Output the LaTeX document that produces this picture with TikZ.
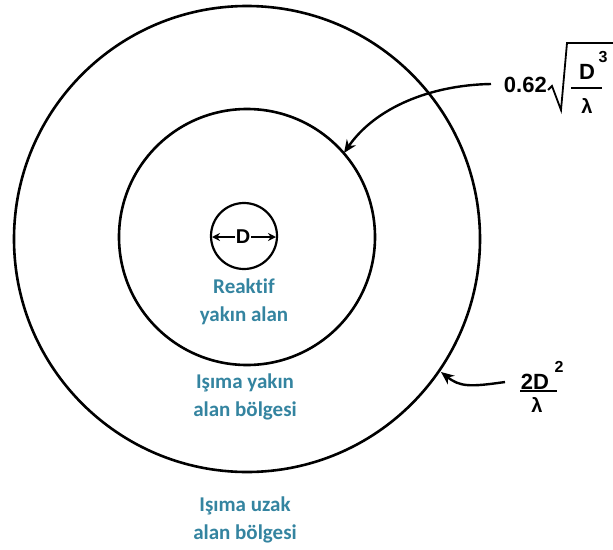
\documentclass[tikz,border=0pt]{standalone}
\usepackage{fontspec}
\setmainfont{Liberation Sans}
\newfontfamily\labfont[Ligatures=NoCommon]{Carlito}
\usetikzlibrary{arrows.meta}
\definecolor{zonec}{RGB}{52,132,160}
\tikzset{
  ring/.style={draw=black, line width=2.6pt, circle, inner sep=0pt},
  zone/.style={font=\labfont\bfseries\fontsize{21}{28}\selectfont, text=zonec, align=center},
  frm/.style={font=\bfseries\fontsize{22}{24}\selectfont, inner sep=0pt},
  sup/.style={font=\bfseries\fontsize{16}{18}\selectfont, inner sep=0pt},
  pointer/.style={line width=2.4pt, -{Stealth[length=13pt,width=11pt]}},
  darr/.style={line width=2.2pt, -{Stealth[length=8pt,width=8pt]}}
}
\begin{document}
\begin{tikzpicture}[x=1pt,y=-1pt]
\useasboundingbox (0,0) rectangle (613,549);
% circles
\node[ring, minimum size=466pt] (outer) at (247,239) {};
\node[ring, minimum size=256pt] (inner) at (247,237) {};
\node[ring, line width=2.2pt, minimum size=66pt] (small) at (244,236) {};
% D with arrows
\node[frm, font=\bfseries\fontsize{20}{22}\selectfont] (d) at (243,237) {D};
\coordinate (dl) at (212,237);
\coordinate (dr) at (276,237);
\draw[darr] (d.west) ++(-1,0) -- (dl);
\draw[darr] (d.east) ++(1,0) -- (dr);
% zone labels
\node[zone] (reak) at (244,302) {Reaktif\\yakın alan};
\node[zone] (near) at (245,397) {Işıma yakın\\alan bölgesi};
\node[zone] (far) at (245,520) {Işıma uzak\\alan bölgesi};
% formula 1: 0.62 sqrt(D^3/lambda)
\node[frm, anchor=east] (c62) at (547,85) {0.62};
\draw[line width=1.8pt, line join=miter] (548,90) -- (552,86) -- (561,110) -- (567,43) -- (613,43);
\node[frm] (fd) at (587,72) {D};
\node[sup] (f3) at (603,57) {3};
\draw[line width=1.8pt] (571,88) -- (602,88);
\node[frm, font=\bfseries\fontsize{20}{22}\selectfont] (fl) at (587,106) {λ};
% formula 2: 2D^2/lambda
\node[frm] (f2d) at (535,382) {2D};
\node[sup] (f22) at (559,367) {2};
\draw[line width=1.8pt] (520,391) -- (557,391);
\node[frm, font=\bfseries\fontsize{20}{22}\selectfont] (f2l) at (537,405) {λ};
% pointers
\coordinate (p1s) at (491,84);
\coordinate (p1e) at (344,153);
\draw[pointer] (p1s) .. controls (430,85) and (375,108) .. (p1e);
\coordinate (p2s) at (505,382);
\coordinate (p2e) at (441,372);
\draw[pointer] (p2s) .. controls (470,387) and (460,387) .. (p2e);
\end{tikzpicture}
\end{document}
